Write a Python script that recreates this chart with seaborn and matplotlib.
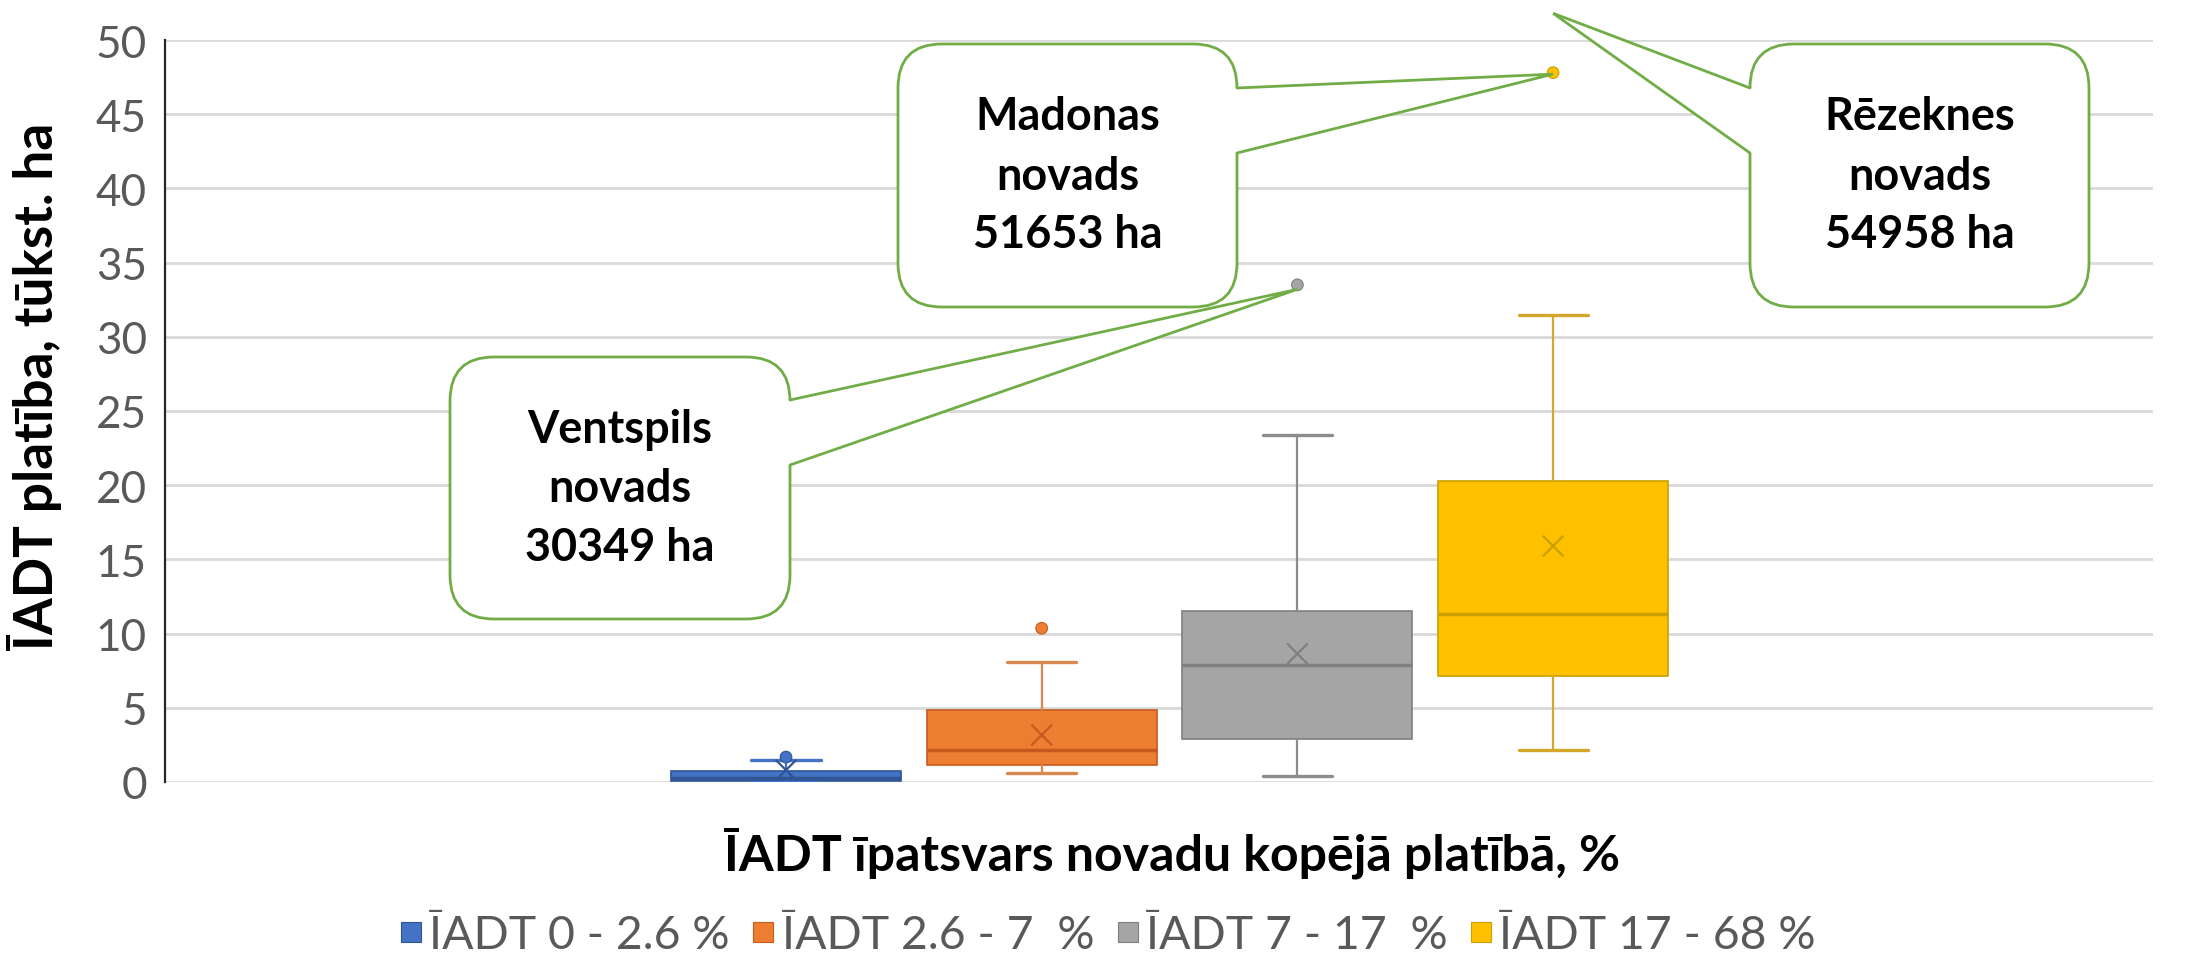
import matplotlib
matplotlib.use("Agg")
import matplotlib.pyplot as plt
import matplotlib.transforms as mtransforms
from matplotlib.patches import FancyBboxPatch, Polygon
from matplotlib.lines import Line2D
import numpy as np
import pandas as pd
import seaborn as sns

# ---------------- data ----------------
series_labels = ["ĪADT 0 - 2.6 %", "ĪADT 2.6 - 7  %", "ĪADT 7 - 17  %", "ĪADT 17 - 68 %"]
whisker_low = [0.0, 0.60, 0.42, 2.17]
q1 = [0.08, 1.16, 2.88, 7.12]
median = [0.30, 2.14, 7.88, 11.34]
q3 = [0.76, 4.82, 11.52, 20.30]
whisker_high = [1.48, 8.06, 23.40, 31.50]
means = [0.80, 3.17, 8.64, 15.90]
outlier_series = [0, 1, 2, 3]
outlier_values = [1.68, 10.36, 33.50, 47.80]

callout_texts = ["Ventspils\nnovads\n30349 ha", "Madonas\nnovads\n51653 ha", "Rēzeknes\nnovads\n54958 ha"]
callout_series = [2, 3, 3]
callout_values = [33.2, 47.7, 51.8]

y_ticks = [0, 5, 10, 15, 20, 25, 30, 35, 40, 45, 50]
x_label = "ĪADT īpatsvars novadu kopējā platībā, %"
y_label = "ĪADT platība, tūkst. ha"

# ---------------- style ----------------
fill_colors = ["#4472C4", "#ED7D31", "#A5A5A5", "#FFC000"]
edge_colors = ["#2F5597", "#C65A1E", "#7F7F7F", "#C9A000"]
whisker_colors = ["#4472C4", "#D9884F", "#8C8C8C", "#D4A72C"]
green = "#70AD47"
text_gray = "#595959"

W, H, DPI = 2193, 962, 100

sns.set_theme(style="white")
plt.rcParams["font.family"] = ["Lato", "DejaVu Sans"]

fig = plt.figure(figsize=(W / DPI, H / DPI), dpi=DPI)
fig.patch.set_facecolor("white")
renderer = fig.canvas.get_renderer()

# plot area (pixels, top-origin)
pl, pr, pt, pb = 165, 2153, 41, 783
ax = fig.add_axes([pl / W, 1 - pb / H, (pr - pl) / W, (pb - pt) / H])
ax.set_facecolor("white")

positions = list(range(len(series_labels)))
stats = []
for i in positions:
    stats.append(dict(med=median[i], q1=q1[i], q3=q3[i], whislo=whisker_low[i],
                      whishi=whisker_high[i], fliers=[], label=series_labels[i]))
art = ax.bxp(stats, positions=positions, widths=0.9, capwidths=0.27, patch_artist=True,
             showfliers=False, manage_ticks=False, zorder=3)
for i in positions:
    art["boxes"][i].set(facecolor=fill_colors[i], edgecolor=edge_colors[i], linewidth=1.2)
    for w in art["whiskers"][2 * i:2 * i + 2]:
        w.set(color=whisker_colors[i], linewidth=1.6)
    for c in art["caps"][2 * i:2 * i + 2]:
        c.set(color=whisker_colors[i], linewidth=2.4)
    art["medians"][i].set(color=edge_colors[i], linewidth=2.5)

means_df = pd.DataFrame({"pos": positions, "mean": means, "series": series_labels})
sns.scatterplot(data=means_df, x="pos", y="mean", hue="series",
                palette=dict(zip(series_labels, edge_colors)), marker="x", s=220,
                linewidth=1.6, legend=False, ax=ax, zorder=5)

out_df = pd.DataFrame({"pos": outlier_series, "value": outlier_values,
                       "series": [series_labels[i] for i in outlier_series]})
sns.scatterplot(data=out_df, x="pos", y="value", hue="series",
                palette=dict(zip(series_labels, fill_colors)), marker="o", s=70,
                edgecolor=[edge_colors[i] for i in outlier_series], linewidth=0.8,
                legend=False, ax=ax, zorder=6)

# axes cosmetics
spacing = 255.7
ax.set_xlim((pl - 786) / spacing, (pr - 786) / spacing)
ax.set_ylim(0, 50)
ax.set_xlabel("")
ax.set_ylabel("")
ax.set_xticks([])
ax.set_yticks(y_ticks)
ax.set_axisbelow(True)
ax.yaxis.grid(True, color="#D9D9D9", linewidth=2.0)
ax.xaxis.grid(False)
for s in ["top", "right", "bottom"]:
    ax.spines[s].set_visible(False)
ax.spines["left"].set_color("#262626")
ax.spines["left"].set_linewidth(1.6)


def fit_size(text, weight, target_px, base=30, rotation=0):
    t = fig.text(0, 0, text, fontsize=base, fontweight=weight, rotation=rotation)
    bb = t.get_window_extent(renderer)
    cur = bb.height if rotation == 90 else bb.width
    t.remove()
    return base * target_px / cur


tick_size = fit_size("50", "normal", 51)
ax.tick_params(axis="y", labelsize=tick_size, labelcolor=text_gray, length=0, pad=18 * 72 / DPI)

# axis titles
ylab_size = fit_size(y_label, "bold", 527, rotation=90)
fig.text(35 / W, 1 - 386 / H, y_label, rotation=90, ha="center", va="center",
         fontsize=ylab_size, fontweight="bold", color="black")
xlab_size = fit_size(x_label, "bold", 896)
fig.text(1172 / W, 1 - 853 / H, x_label, ha="center", va="center",
         fontsize=xlab_size, fontweight="bold", color="black")

# legend
leg_size = fit_size(series_labels[0], "normal", 300)
handles = [Line2D([0], [0], marker="s", linestyle="none", markersize=15,
                  markerfacecolor=fill_colors[i], markeredgecolor=edge_colors[i],
                  markeredgewidth=0.8) for i in positions]
leg = fig.legend(handles, series_labels, loc="center", bbox_to_anchor=(1107 / W, 1 - 936 / H),
                 ncol=4, frameon=False, fontsize=leg_size, handlelength=0.55,
                 handletextpad=0.12, columnspacing=0.45, labelcolor=text_gray,
                 borderpad=0, borderaxespad=0)

# callouts (layout in pixels, top-origin)
callout_boxes = [(450, 358, 790, 620), (898, 45, 1237, 308), (1750, 45, 2089, 308)]
callout_bases = [((790, 401), (790, 466)), ((1237, 89), (1237, 154)), ((1750, 89), (1750, 154))]
callout_size = fit_size("Madonas", "bold", 184)
ident = mtransforms.IdentityTransform()

for k, text in enumerate(callout_texts):
    x0, y0, x1, y1 = callout_boxes[k]
    box = FancyBboxPatch((x0, H - y1), x1 - x0, y1 - y0,
                         boxstyle="round,pad=0,rounding_size=44",
                         facecolor="white", edgecolor=green, linewidth=2.0,
                         transform=ident, zorder=5)
    fig.add_artist(box)
    tip = ax.transData.transform((callout_series[k], callout_values[k]))
    (bx1, by1), (bx2, by2) = callout_bases[k]
    b1 = (bx1, H - by1)
    b2 = (bx2, H - by2)
    inward = 5 if bx1 == x0 else -5
    poly = Polygon([b1, tuple(tip), b2, (b2[0] + inward, b2[1]), (b1[0] + inward, b1[1])],
                   closed=True, facecolor="white", edgecolor="none", transform=ident, zorder=6)
    fig.add_artist(poly)
    ln = Line2D([b1[0], tip[0], b2[0]], [b1[1], tip[1], b2[1]], color=green, linewidth=2.0,
                transform=ident, zorder=7, solid_joinstyle="miter")
    fig.add_artist(ln)
    fig.text((x0 + x1) / 2 / W, 1 - (y0 + y1) / 2 / H, text, ha="center", va="center",
             fontsize=callout_size, fontweight="bold", color="black", linespacing=1.5,
             zorder=10)

fig.savefig("out.png", dpi=DPI, facecolor="white")
